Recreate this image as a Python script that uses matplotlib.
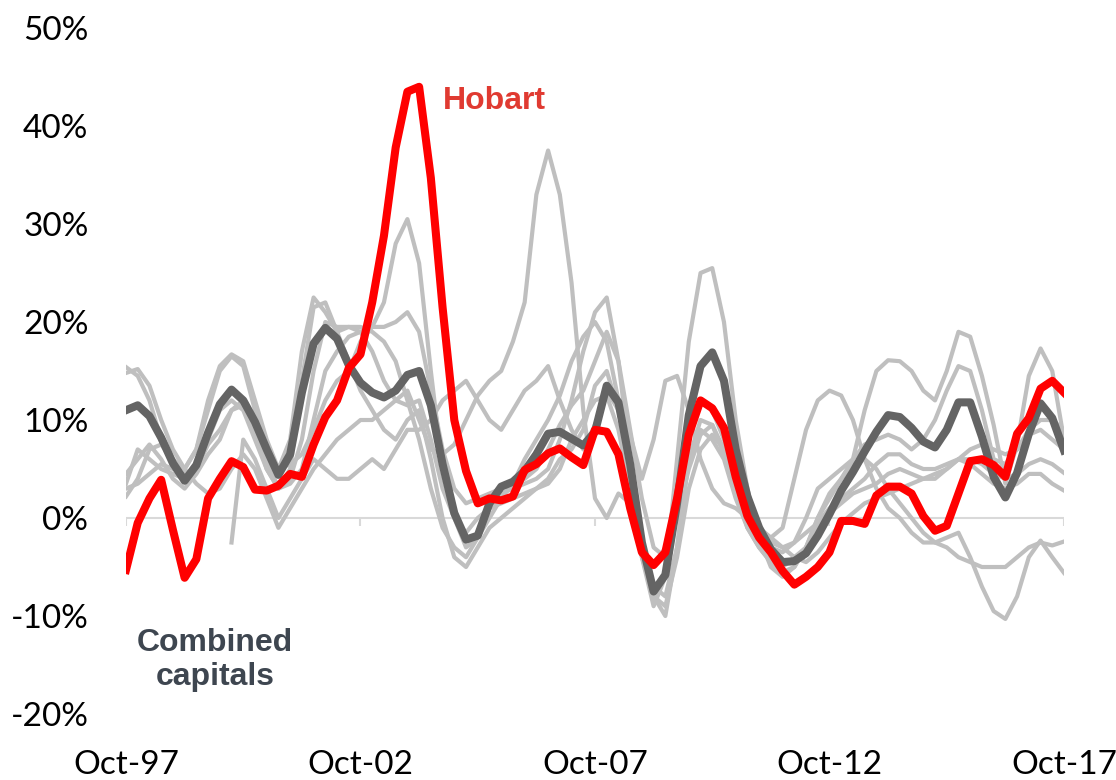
import matplotlib
matplotlib.use('Agg')
import matplotlib.pyplot as plt
import numpy as np

# quarterly readings, Oct-97 .. Oct-17 (81 points), annual % change
months = np.arange(0, 241, 3)
tick_pos = [0, 60, 120, 180, 240]
tick_labels = ['Oct-97', 'Oct-02', 'Oct-07', 'Oct-12', 'Oct-17']

hobart = [-5.3, -0.5, 2.0, 3.9, -1.2, -6.1, -4.2, 2.0, 4.0, 5.8,
          5.2, 2.9, 2.8, 3.3, 4.5, 4.2, 7.5, 10.3, 12.0, 15.3,
          16.7, 22.0, 28.8, 37.8, 43.5, 44.0, 34.7, 21.5, 10.0, 4.8,
          1.5, 2.0, 1.8, 2.2, 4.9, 5.5, 6.6, 7.1, 6.2, 5.4,
          9.0, 8.8, 6.5, 1.0, -3.5, -4.8, -3.5, 2.0, 8.5, 12.0,
          11.2, 9.2, 4.2, 0.2, -2.0, -3.5, -5.4, -6.8, -6.0, -5.0,
          -3.5, -0.3, -0.3, -0.6, 2.3, 3.2, 3.2, 2.5, 0.2, -1.3,
          -0.8, 2.5, 5.8, 6.0, 5.4, 4.2, 8.6, 10.2, 13.2, 14.0, 12.8]

combined = [11.0, 11.5, 10.4, 8.2, 5.6, 3.8, 5.4, 8.7, 11.6, 13.1,
            12.0, 9.8, 7.0, 4.4, 6.5, 12.8, 17.8, 19.4, 18.3, 15.6,
            13.8, 12.8, 12.3, 13.0, 14.6, 15.0, 11.5, 5.5, 0.5, -2.2,
            -1.8, 1.5, 3.2, 3.7, 4.8, 6.5, 8.6, 8.8, 8.1, 7.4,
            8.8, 13.5, 11.8, 5.5, -2.5, -7.5, -5.8, 1.5, 10.5, 15.5,
            16.9, 14.0, 7.0, 2.2, -1.0, -3.2, -4.5, -4.4, -3.6, -1.8,
            0.4, 2.8, 4.7, 6.8, 8.8, 10.5, 10.3, 9.2, 7.8, 7.2,
            9.0, 11.8, 11.8, 8.3, 4.2, 2.1, 4.6, 8.6, 11.7, 10.2, 6.9]

nan = np.nan
syd = [15.4, 14.5, 12, 8, 5.5, 5, 7, 11, 15, 16.5,
       15.5, 11, 6, 3, 5, 14, 21.5, 22, 19, 16,
       13, 11, 9, 8, 10, 11, 6, 0, -4, -5,
       -3, -1, 0, 1, 2, 3, 3.5, 5, 8, 10,
       12, 12.5, 9, 3, -3, -5, -3, 3, 9, 12,
       11, 8, 3, 0, -2, -3, -3.5, -2.5, 0, 3,
       4, 5, 6, 11, 15, 16.1, 16, 15, 13, 12,
       15, 19, 18.5, 14.5, 9.5, 3.5, 7.5, 14.5, 17.3, 15, 8]
mel = [14.8, 15.2, 13.5, 10, 7, 5, 7, 12, 15.5, 16.7,
       16, 12, 8, 5, 8, 17, 22.5, 21, 19, 19.5,
       19.5, 19, 18, 16, 12, 8, 3, -1, -3, -4,
       -2, 1, 2.5, 3, 3.5, 4, 5, 8, 12, 17,
       21, 22.5, 16, 6, -4, -9, -6, 6, 18, 25,
       25.5, 20, 10, 3, -2, -5, -6, -5, -3, 0,
       2, 4, 6, 7.5, 8, 8.5, 8, 7, 8, 10,
       13, 15.5, 15, 11, 6, 5.5, 7, 9, 10, 10, 9]
bne = [4.5, 6, 7.5, 6, 4, 3, 4.5, 6.5, 8, 11,
       12, 9, 5, 3, 3.5, 5, 10, 15, 17, 18.5,
       19, 19.5, 22, 28, 30.5, 26, 15, 5, 0, -3,
       -2, 0, 2, 3.5, 6, 8, 10, 12.5, 16, 18.5,
       20, 18, 12, 4, -4, -8, -9, -4, 3, 7,
       8.5, 7, 3, -1, -3, -4.5, -5, -4, -3, -1,
       0.5, 1.5, 2.5, 3, 3.5, 4.5, 5, 4.5, 4, 4,
       5, 6, 6, 5.5, 4.5, 4, 4.5, 5.5, 6, 5.5, 4.6]
adl = [3, 3.5, 4.5, 5.5, 5, 4.5, 5, 7.5, 9, 11,
       11.5, 9, 7, 5, 5.5, 6.5, 9, 12, 14, 15,
       18, 19.5, 19.5, 20, 21, 19, 13, 7, 3, 1.5,
       2, 2.5, 3, 3.5, 4, 5, 7, 9.5, 11.5, 13,
       16, 19, 16, 9, 2, -3, -4, 0, 5, 8.5,
       9.5, 7, 3, 0, -1.5, -2.5, -3, -2.5, -1.5, -0.5,
       1, 2, 3, 4, 5.5, 6.5, 6.5, 5.5, 5, 5,
       5.5, 6, 5.5, 4.5, 3.5, 3, 3.5, 4.5, 4.5, 3.5, 2.8]
per = [2.2, 4, 7, 7.5, 6, 5, 3.5, 2.5, 3, 5,
       6.5, 5, 2, -1, 1, 3, 5, 6.5, 8, 9,
       10, 10, 11, 12, 13, 10, 7, 6.5, 7.5, 10,
       12.5, 14, 15, 18, 22, 33, 37.5, 33, 24, 11,
       2, 0, 2.5, 1.5, -3, -8, -10, -3, 6, 9,
       8, 6, 2, -1, -3, -4.5, -5.5, -5, -3, 0,
       2.5, 4, 5.5, 6, 5, 3, 1.5, 0, -1.5, -2.5,
       -3, -4, -4.5, -5, -5, -5, -4, -3, -2.5, -2.8, -2.4]
dar = [nan, nan, nan, nan, nan, nan, nan, nan, nan, -2.5,
       8, 6, 3, 0, 2, 4, 6, 5, 4, 4,
       5, 6, 5, 7, 9, 9, 10, 12, 13, 14,
       12, 10, 9, 11, 13, 14, 15.5, 12, 9, 7,
       9.5, 13, 11, 8.5, 4, 8, 14, 14.5, 11, 6,
       3, 1.5, 1, 0, -1.5, -2, -1, 4, 9, 12,
       13, 12.5, 10, 6, 3, 1, 0, -1.5, -2.5, -2.5,
       -2, -1.5, -4, -7, -9.5, -10.3, -8, -4, -2.3, -4, -5.6]
cbr = [3.5, 7, 6, 5, 4.5, 4, 5.5, 8, 11, 12,
       11, 8, 5, 3, 4, 8, 15, 20, 19.5, 19.5,
       19, 17, 14, 12, 11.5, 12, 8, 3, 0, -1.5,
       0, 1, 1.5, 2, 2.5, 3, 4, 6, 7, 9,
       13.5, 15, 11, 5, -2, -7, -8, -3, 6, 10,
       9.5, 6.5, 3, 0.5, -1, -2, -3, -4, -4.5, -3.5,
       -2, -0.5, 0.5, 1.5, 2, 2.5, 3, 3.5, 4, 4.5,
       5, 6, 7, 7.5, 7, 6.5, 7, 8.5, 9, 8, 7]
others = [syd, mel, bne, adl, per, dar, cbr]

fig = plt.figure(figsize=(11.16, 7.8), dpi=100)
ax = fig.add_axes([0.1129, 0.0846, 0.8405, 0.8795])

# zero line with small ticks
ax.axhline(0, color='#D9D9D9', lw=1.5, zorder=1)
ax.vlines(tick_pos, -0.8, 0, color='#D9D9D9', lw=1.5, zorder=1)

for s in others:
    ax.plot(months, s, color='#BFBFBF', lw=3, zorder=2,
            solid_joinstyle='round')
ax.plot(months, combined, color='#646464', lw=5.8, zorder=3,
        solid_joinstyle='round')
ax.plot(months, hobart, color='#FF0000', lw=5.8, zorder=4,
        solid_joinstyle='round')

ax.set_xlim(0, 240)
ax.set_ylim(-20, 50)
ax.set_yticks(range(-20, 51, 10))
ax.set_yticklabels([f'{v}%' for v in range(-20, 51, 10)])
ax.set_xticks(tick_pos)
ax.set_xticklabels(tick_labels)
for sp in ax.spines.values():
    sp.set_visible(False)
ax.tick_params(axis='both', length=0, labelsize=24, colors='black')
ax.tick_params(axis='y', pad=27)
ax.tick_params(axis='x', pad=26)
for lab in ax.get_xticklabels() + ax.get_yticklabels():
    lab.set_family('Lato')

ax.text(81, 42.6, 'Hobart', color='#E03A31', fontsize=23, fontweight='bold',
        family='Liberation Sans', ha='left', va='center')
ax.text(22.8, -14.5, 'Combined\ncapitals', color='#3E4650', fontsize=23,
        fontweight='bold', family='Liberation Sans', ha='center', va='center',
        linespacing=1.15)

fig.savefig('out.png', dpi=100)
